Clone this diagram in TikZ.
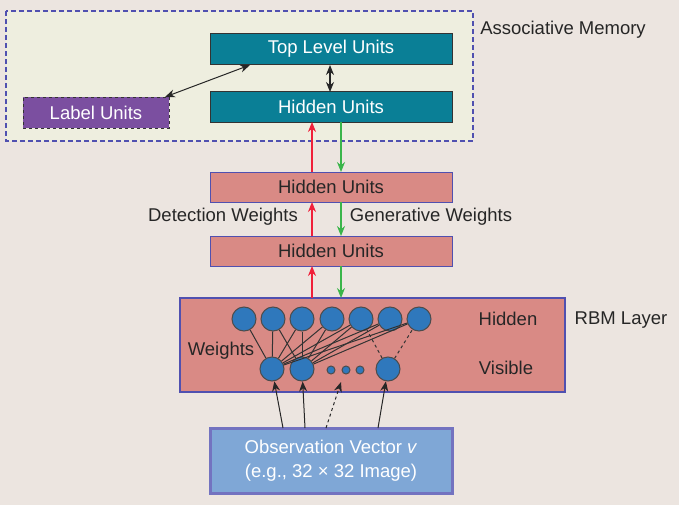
\documentclass[tikz,border=0pt]{standalone}
\usepackage{fontspec}
\setmainfont{Liberation Sans}
\usetikzlibrary{arrows.meta}
\definecolor{bg}{HTML}{ECE5E0}
\definecolor{am}{HTML}{EEEEDF}
\definecolor{bl}{HTML}{5050B0}
\definecolor{teal}{HTML}{0A7F96}
\definecolor{purp}{HTML}{7B4FA0}
\definecolor{pk}{HTML}{D98A85}
\definecolor{cb}{HTML}{2F78BC}
\definecolor{ob}{HTML}{7FA7D6}
\definecolor{rd}{HTML}{F0203A}
\definecolor{gr}{HTML}{3AB54A}
\begin{document}
\begin{tikzpicture}[x=1pt,y=-1pt,line width=1pt,font=\fontsize{18}{21}\selectfont,
 box/.style={draw=black!80,fill=teal,text=white,minimum width=242pt,minimum height=31pt,inner sep=0pt,font=\fontsize{18.5}{21}\selectfont},
 pbox/.style={draw=bl,fill=pk,text=black!85,minimum width=242pt,minimum height=30pt,inner sep=0pt,font=\fontsize{18.5}{21}\selectfont},
 hc/.style={circle,draw=black!70,fill=cb,minimum size=24pt,inner sep=0pt},
 sc/.style={circle,draw=black!70,fill=cb,minimum size=8pt,inner sep=0pt},
 tip/.tip={Stealth[length=10pt,width=8pt]},
 ar/.style={-tip,black!85},
 up/.style={-tip,rd,line width=1.3pt},
 dn/.style={-tip,gr,line width=1.3pt},
 lbl/.style={text=black!85,font=\fontsize{18.5}{21}\selectfont}]
\fill[bg] (0,0) rectangle (679,505);
\useasboundingbox (0,0) rectangle (679,505);
\draw[bl,fill=am,dash pattern=on 5pt off 3pt,line width=2pt] (6,11) rectangle (473,141);
\node[lbl] (amt) at (563,30) {Associative Memory};
\node[box] (top) at (331,49) {Top Level Units};
\node[box] (th) at (331,107) {Hidden Units};
\node[draw=black!80,dashed,fill=purp,text=white,minimum width=146pt,minimum height=31pt,inner sep=0pt,font=\fontsize{18.5}{21}\selectfont] (lab) at (96,113) {Label Units};
\coordinate (la) at (165,97); \coordinate (ta) at (250,65);
\draw[tip-tip,black!85] (la) -- (ta);
\draw[tip-tip,black!85,line width=1.3pt] (330,65) -- (330,92);
\node[pbox] (h1) at (331,187) {Hidden Units};
\node[pbox] (h2) at (331,251) {Hidden Units};
\draw[up] (312,172) -- (312,122);
\draw[dn] (341,122) -- (341,172);
\draw[up] (312,236) -- (312,202);
\draw[dn] (341,202) -- (341,236);
\node[lbl] (dw) at (223,217) {Detection Weights};
\node[lbl] (gw) at (431,217) {Generative Weights};
\draw[bl,fill=pk,line width=1.3pt] (180,298) rectangle (565,392);
\draw[up] (312,298) -- (312,266);
\draw[dn] (341,266) -- (341,298);
\node[lbl] (rbm) at (621,320) {RBM Layer};
\node[lbl] (hid) at (508,319) {Hidden};
\node[lbl] (vis) at (506,368) {Visible};
\node[lbl] (wt) at (221,351) {Weights};
\foreach \i/\x in {1/244,2/273,3/302,4/332,5/361,6/390,7/419} \node[hc] (H\i) at (\x,319) {};
\node[hc] (V1) at (272,369) {};
\node[hc] (V2) at (302,369) {};
\node[sc] (s1) at (331,370) {};
\node[sc] (s2) at (346,370) {};
\node[sc] (s3) at (360,370) {};
\node[hc] (V4) at (388,369) {};
\foreach \i in {1,...,7} \draw[black!80] (V1) -- (H\i);
\foreach \i in {2,...,7} \draw[black!80] (V2) -- (H\i);
\draw[black!80,dashed] (V4) -- (H5);
\draw[black!80,dashed] (V4) -- (H7);
\node[draw=bl!80,line width=3pt,fill=ob,text=white,minimum width=242pt,minimum height=65pt,align=center,font=\fontsize{18.5}{24}\selectfont] (obs) at (331,461) {Observation Vector \textit{v}\\(e.g., 32 × 32 Image)};
\coordinate (o1) at (283,428); \coordinate (o2) at (305,428);
\coordinate (o3) at (326,428); \coordinate (o4) at (378,428);
\coordinate (d3) at (341,382);
\draw[ar] (o1) -- (V1);
\draw[ar] (o2) -- (V2);
\draw[ar,dashed] (o3) -- (d3);
\draw[ar] (o4) -- (V4);
\end{tikzpicture}
\end{document}
